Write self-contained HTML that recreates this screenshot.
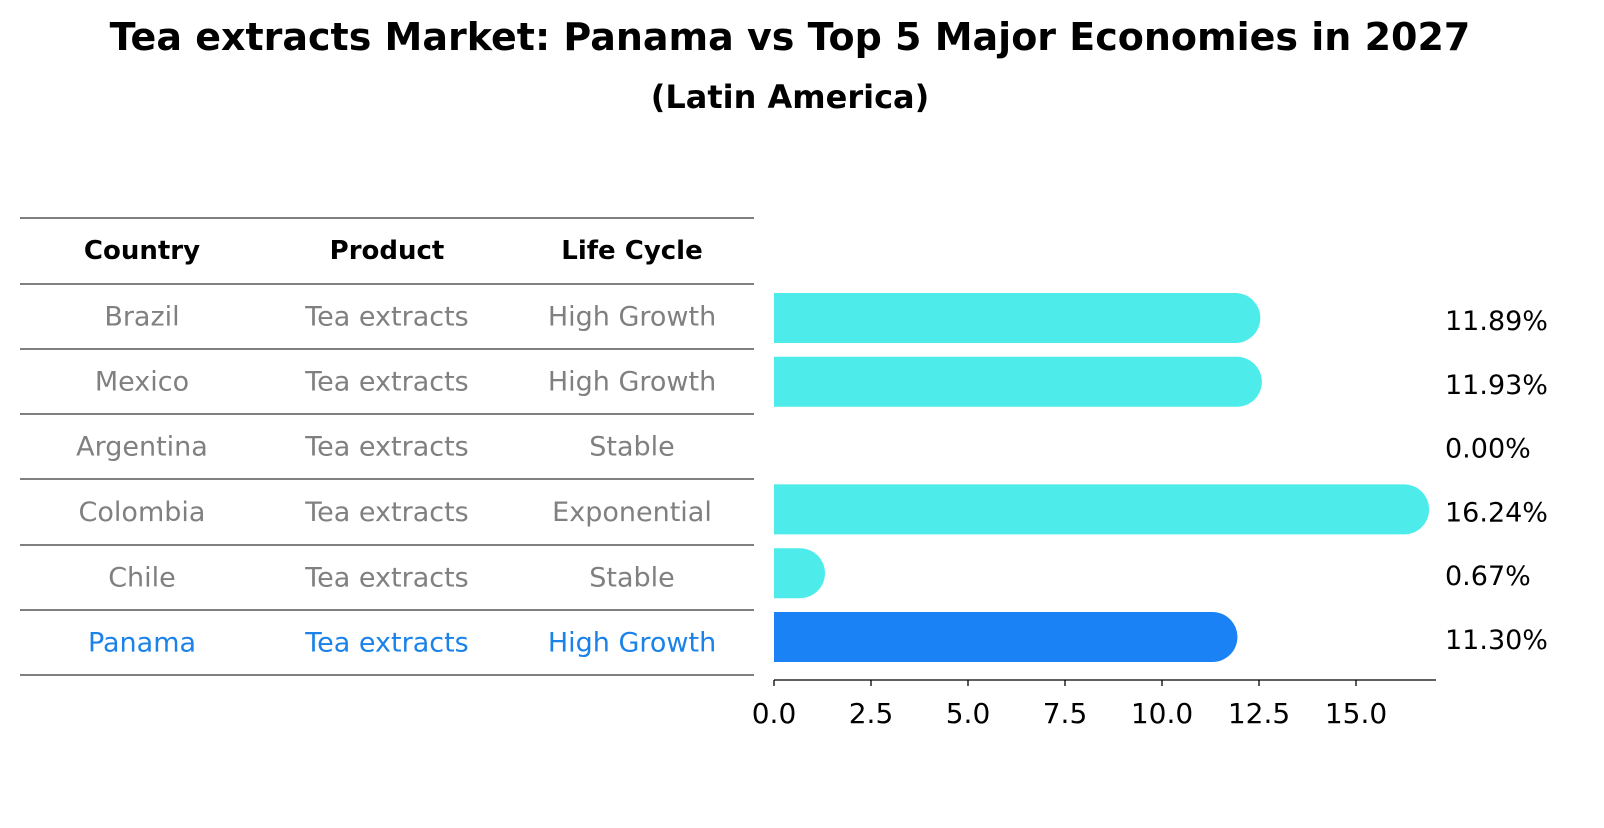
<!DOCTYPE html>
<html><head><meta charset="utf-8"><style>
body{margin:0;background:#fff;font-family:"Liberation Sans","DejaVu Sans",sans-serif}
</style></head><body>
<svg width="1604" height="823" xmlns="http://www.w3.org/2000/svg" font-family="DejaVu Sans, Liberation Sans, sans-serif">
<text x="790" y="50" text-anchor="middle" font-size="38" font-weight="bold">Tea extracts Market: Panama vs Top 5 Major Economies in 2027</text>
<text x="790" y="108" text-anchor="middle" font-size="32" font-weight="bold">(Latin America)</text>
<g id="table"></g>
<g id="bars"></g>
<g id="axis"></g>
</svg>
<script>
const countries=["Brazil","Mexico","Argentina","Colombia","Chile","Panama"];
const products=["Tea extracts","Tea extracts","Tea extracts","Tea extracts","Tea extracts","Tea extracts"];
const lifeCycles=["High Growth","High Growth","Stable","Exponential","Stable","High Growth"];
const values=[11.89,11.93,0.00,16.24,0.67,11.30];
const valueLabels=["11.89%","11.93%","0.00%","16.24%","0.67%","11.30%"];
const ticks=[0,2.5,5,7.5,10,12.5,15];
const NS="http://www.w3.org/2000/svg";
function mk(t,a,p,txt){const e=document.createElementNS(NS,t);for(const k in a)e.setAttribute(k,a[k]);if(txt!==undefined)e.textContent=txt;p.appendChild(e);return e;}
const x=v=>774+v*38.8;
const rowY=i=>318+i*63.8;
const tbl=document.getElementById('table');
const lines=[218,284,349,414,479,545,610,675];
lines.forEach((ly,i)=>{const l=mk('line',{x1:20,x2:754,y1:ly,y2:ly,stroke:'#000','stroke-width':1},tbl);

});
const cx=[142,387,632];
["Country","Product","Life Cycle"].forEach((h,j)=>{const t=mk('text',{x:cx[j],y:259,'text-anchor':'middle','font-size':26,'font-weight':'bold'},tbl,h);

});
countries.forEach((c,i)=>{const col=i===countries.length-1?'#1a82e8':'#808080';
const ty=(lines[i+1]+lines[i+2])/2+9;
[c,products[i],lifeCycles[i]].forEach((v,j)=>{const t=mk('text',{x:cx[j],y:ty,'text-anchor':'middle','font-size':27,fill:col},tbl,v);

});});
const bars=document.getElementById('bars');
values.forEach((v,i)=>{const col=i===values.length-1?'#1a82f5':'#4deceb';const y=rowY(i);
if(v>0){const w=x(v)-x(0);
const p=mk('path',{d:`M${x(0)},${y-25} h${w} a25,25 0 0 1 0,50 h${-w} Z`,fill:col},bars);

}
const t=mk('text',{x:1445,y:y+12,'font-size':27},bars,valueLabels[i]);

});
const ax=document.getElementById('axis');
const al=mk('line',{x1:774,x2:1436,y1:680,y2:680,stroke:'#000','stroke-width':1.3},ax);


ticks.forEach(t=>{const tl=mk('line',{x1:x(t),x2:x(t),y1:680,y2:686,stroke:'#000','stroke-width':1.3},ax);


const tx=mk('text',{x:x(t),y:723,'text-anchor':'middle','font-size':28},ax,t.toFixed(1));

});
</script>
</body></html>
